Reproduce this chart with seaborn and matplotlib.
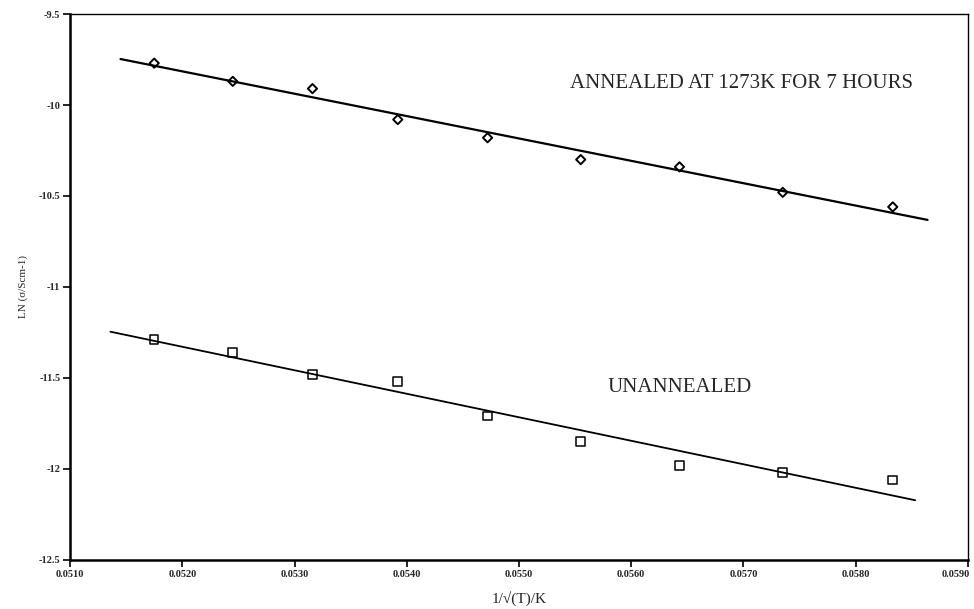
import numpy as np
import pandas as pd
import seaborn as sns
import matplotlib.pyplot as plt
from matplotlib.transforms import ScaledTranslation

# 1/sqrt(T) values
inv_sqrt_t = [0.05175, 0.05245, 0.05316, 0.05392, 0.05472, 0.05555, 0.05643, 0.05735, 0.05833]
ln_annealed = [-9.77, -9.87, -9.91, -10.08, -10.18, -10.30, -10.34, -10.48, -10.56]
ln_unannealed = [-11.29, -11.36, -11.48, -11.52, -11.71, -11.85, -11.98, -12.02, -12.06]

xticks = [0.0510, 0.0520, 0.0530, 0.0540, 0.0550, 0.0560, 0.0570, 0.0580, 0.0590]
yticks = [-12.5, -12, -11.5, -11, -10.5, -10, -9.5]

df = pd.DataFrame({"x": inv_sqrt_t, "annealed": ln_annealed, "unannealed": ln_unannealed})

sns.set_style("ticks")
plt.rcParams['font.family'] = ['Liberation Serif', 'DejaVu Serif']
plt.rcParams['axes.unicode_minus'] = False

fig = plt.figure(figsize=(9.74, 6.09), dpi=100)
ax = fig.add_axes([0.0719, 0.0805, 0.9219, 0.8965])

# fitted lines, drawn a little past the data like the original
fit_ranges = {"annealed": (0.05145, 0.05864), "unannealed": (0.05136, 0.05853)}
for col, (x0, x1) in fit_ranges.items():
    k, b = np.polyfit(df["x"], df[col], 1)
    xs = np.array([x0, x1])
    sns.lineplot(x=xs, y=k * xs + b, ax=ax, color="black", linewidth=1.6 if col == "annealed" else 1.3)

sns.scatterplot(data=df, x="x", y="annealed", ax=ax, marker="D", s=22,
                facecolor="none", edgecolor="black", linewidth=1.4, zorder=3)
sns.scatterplot(data=df, x="x", y="unannealed", ax=ax, marker="s", s=38,
                facecolor="none", edgecolor="black", linewidth=1.1, zorder=3)

ax.set_xlim(0.0510, 0.0590)
ax.set_ylim(-12.5, -9.5)
ax.set_xticks(xticks)
ax.set_xticklabels([f"{t:.4f}" for t in xticks], fontsize=7.5, fontweight="bold")
ax.set_yticks(yticks)
ax.set_yticklabels([f"{t:g}" for t in yticks], fontsize=7.5, fontweight="bold")
ax.tick_params(direction="out", length=5, width=1.2, color="black", pad=2)

# last x label sits inside the figure edge
last = ax.get_xticklabels()[-1]
last.set_ha("right")
last.set_transform(last.get_transform() + ScaledTranslation(0.02, 0, fig.dpi_scale_trans))

for side in ["left", "bottom"]:
    ax.spines[side].set_linewidth(1.8)
for side in ["top", "right"]:
    ax.spines[side].set_linewidth(1.0)
for s in ax.spines.values():
    s.set_color("black")

ax.set_xlabel("1/√(T)/K", fontsize=11, labelpad=9)
ax.set_ylabel("LN (σ/Scm-1)", fontsize=8, labelpad=8)

ax.text(0.05545, -9.88, "ANNEALED AT 1273K FOR 7 HOURS", fontsize=15, va="center")
ax.text(0.05579, -11.555, "UNANNEALED", fontsize=15, va="center")

fig.savefig("out.png", dpi=100)
